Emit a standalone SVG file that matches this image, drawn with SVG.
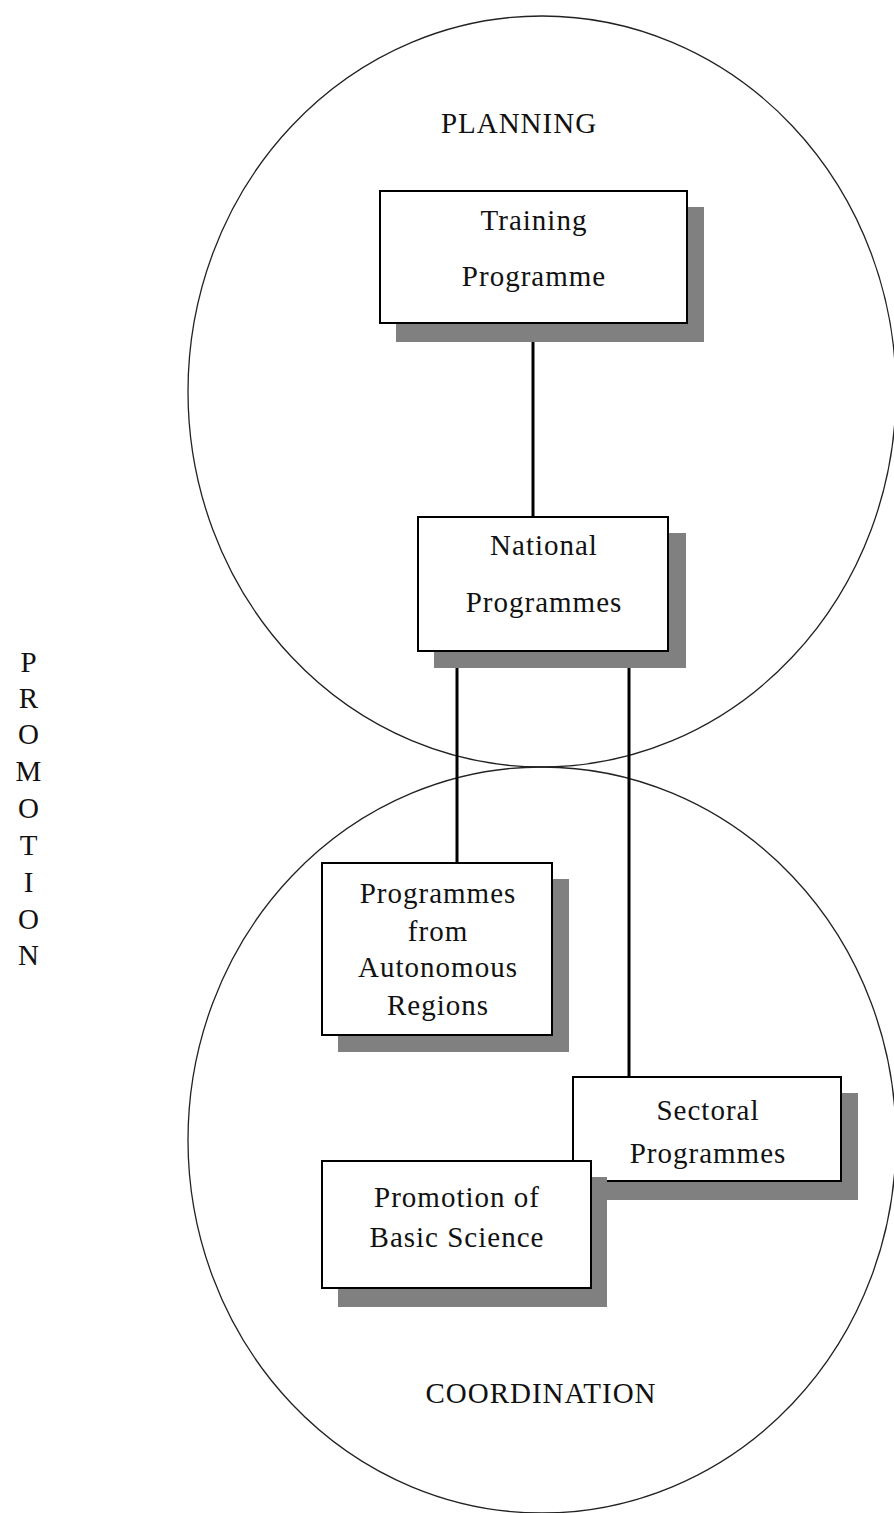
<svg xmlns="http://www.w3.org/2000/svg" width="894" height="1513" viewBox="0 0 894 1513">
<style>
.bg{fill:#ffffff}
.ell{fill:none;stroke:#222222;stroke-width:1.3}
.shadow{fill:#808080}
.box{fill:#ffffff;stroke:#000000;stroke-width:2}
.conn{stroke:#000000;stroke-width:3;fill:none}
text{font-family:"Liberation Serif","Times New Roman",serif;font-size:29px;fill:#111111;letter-spacing:1px}
.c{text-anchor:middle}
</style>
<rect class="bg" x="0" y="0" width="894" height="1513"/>
<g id="circles">
<ellipse id="planning-circle" class="ell" cx="542" cy="391.5" rx="354" ry="375.5"/>
<ellipse id="coordination-circle" class="ell" cx="542" cy="1140" rx="354" ry="373"/>
</g>
<g id="labels">
<text class="c" x="519" y="133">PLANNING</text>
<text class="c" x="541" y="1403">COORDINATION</text>
<g id="promotion" class="c">
<text x="29" y="672">P</text>
<text x="29" y="708">R</text>
<text x="29" y="744">O</text>
<text x="29" y="781">M</text>
<text x="29" y="818">O</text>
<text x="29" y="855">T</text>
<text x="29" y="892">I</text>
<text x="29" y="929">O</text>
<text x="29" y="965">N</text>
</g>
</g>
<g id="connectors">
<line class="conn" x1="533" y1="323" x2="533" y2="517"/>
<line class="conn" x1="457" y1="651" x2="457" y2="863"/>
<line class="conn" x1="629" y1="651" x2="629" y2="1077"/>
</g>
<g id="training">
<rect class="shadow" x="396" y="207" width="308" height="135"/>
<rect class="box" x="380" y="191" width="307" height="132"/>
<text class="c" x="534" y="230">Training</text>
<text class="c" x="534" y="286">Programme</text>
</g>
<g id="national">
<rect class="shadow" x="434" y="533" width="252" height="135"/>
<rect class="box" x="418" y="517" width="250" height="134"/>
<text class="c" x="544" y="555">National</text>
<text class="c" x="544" y="612">Programmes</text>
</g>
<g id="autonomous">
<rect class="shadow" x="338" y="879" width="231" height="173"/>
<rect class="box" x="322" y="863" width="230" height="172"/>
<text class="c" x="438" y="903">Programmes</text>
<text class="c" x="438" y="941">from</text>
<text class="c" x="438" y="977">Autonomous</text>
<text class="c" x="438" y="1015">Regions</text>
</g>
<g id="sectoral">
<rect class="shadow" x="589" y="1093" width="269" height="107"/>
<rect class="box" x="573" y="1077" width="268" height="104"/>
<text class="c" x="708" y="1120">Sectoral</text>
<text class="c" x="708" y="1163">Programmes</text>
</g>
<g id="basic-science">
<rect class="shadow" x="338" y="1177" width="269" height="130"/>
<rect class="box" x="322" y="1161" width="269" height="127"/>
<text class="c" x="457" y="1207">Promotion of</text>
<text class="c" x="457" y="1247">Basic Science</text>
</g>
</svg>
